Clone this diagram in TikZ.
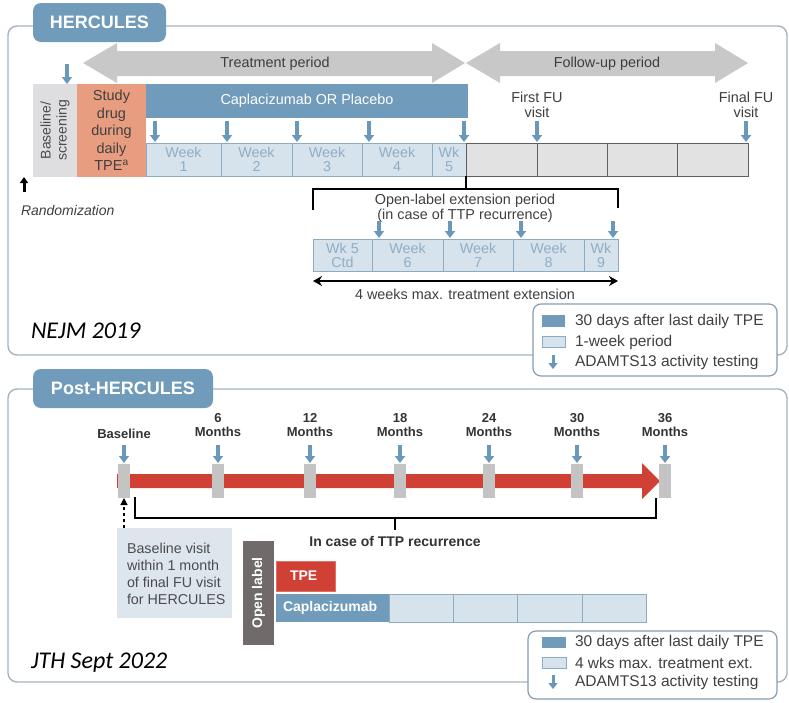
\documentclass[tikz,border=0pt]{standalone}
\usepackage{fontspec}
\setmainfont{Liberation Sans}
\newfontfamily\jfont{Carlito}
\usetikzlibrary{arrows.meta}
\definecolor{steel}{RGB}{112,155,186}
\definecolor{arrblue}{RGB}{106,152,186}
\definecolor{lightbox}{RGB}{214,227,237}
\definecolor{lightborder}{RGB}{140,172,196}
\definecolor{weektext}{RGB}{145,172,196}
\definecolor{greyarrow}{RGB}{200,200,200}
\definecolor{fubox}{RGB}{226,226,226}
\definecolor{fuborder}{RGB}{95,95,95}
\definecolor{basebox}{RGB}{222,222,224}
\definecolor{salmonbox}{RGB}{233,157,128}
\definecolor{ttpred}{RGB}{209,64,52}
\definecolor{markergrey}{RGB}{196,196,196}
\definecolor{bvbox}{RGB}{221,229,237}
\definecolor{olgrey}{RGB}{112,106,106}
\definecolor{framecol}{RGB}{165,180,195}
\definecolor{legcol}{RGB}{135,158,178}
\definecolor{txt}{RGB}{62,62,62}
\newcommand\setfs[2]{\fontsize{#1}{#2}\selectfont}
\begin{document}
\begin{tikzpicture}[x=1pt,y=-1pt,
  every node/.style={inner sep=0pt, outer sep=0pt, text=txt},
  tnorm/.style={font=\setfs{14.4}{15}, align=center},
  tbold/.style={font=\bfseries\setfs{13}{14}, align=center, text=black!80},
  tabbox/.style={fill=steel, rounded corners=8pt, text=white, font=\bfseries\setfs{18}{18}, anchor=north west, minimum height=39},
  cellbox/.style={anchor=north west, minimum height=33, line width=1pt},
  wkbox/.style={cellbox, draw=lightborder, fill=lightbox, text=weektext, align=center, font=\setfs{14.3}{14}},
  fubox/.style={cellbox, draw=fuborder, fill=fubox},
  extbox/.style={wkbox, minimum height=32},
  tarr/.style={draw=arrblue, line width=3.5pt, -{Triangle[width=10pt,length=7pt]}},
  larr/.style={draw=arrblue, line width=3pt, -{Triangle[width=9pt,length=6pt]}},
  boxframe/.style={draw=framecol, line width=1.4pt, rounded corners=9pt},
  legbox/.style={draw=legcol, fill=white, rounded corners=8pt, line width=1.2pt, anchor=north west},
  legtext/.style={anchor=west, font=\setfs{15.5}{15}, text=black!75},
  tickmark/.style={fill=markergrey, minimum width=12, minimum height=34, anchor=north},
  journal/.style={anchor=west, font=\jfont\itshape\setfs{24}{24}, text=black},
  bracket/.style={draw=black, line width=1.2pt}
]
\useasboundingbox (0,0) rectangle (789,702);
\fill[white] (0,0) rectangle (789,702);

% ================= HERCULES =================
\draw[boxframe] (8,26) rectangle (787,355);
\node[tabbox, minimum width=133] (tab1) at (33,3) {HERCULES};

% big grey arrows
\fill[greyarrow] (83,63) -- (117,43) -- (117,51) -- (432,51) -- (432,43) -- (465,63)
  -- (432,83) -- (432,76) -- (117,76) -- (117,83) -- cycle;
\node[tnorm] (tp) at (275,64) {Treatment period};
\fill[greyarrow] (466,63) -- (500,43) -- (500,51) -- (715,51) -- (715,43) -- (748,63)
  -- (715,83) -- (715,76) -- (500,76) -- (500,83) -- cycle;
\node[tnorm] (fp) at (607,64) {Follow-up period};

% baseline / study drug / caplacizumab
\node[anchor=north west, fill=basebox, minimum width=44, minimum height=93] (bs) at (33,84) {};
\node[rotate=90, align=center, font=\setfs{14}{16}, text=black!70] (bst) at (bs.center) {Baseline/\\screening};
\node[anchor=north west, fill=salmonbox, minimum width=69, minimum height=93, align=center,
  font=\setfs{14.5}{17.5}, text=black!75] (sd) at (77,84) {Study\\drug\\during\\daily\\TPE\textsuperscript{a}};
\node[anchor=north west, fill=steel, minimum width=322, minimum height=34, text=white,
  font=\setfs{14.4}{15}] (cap) at (146,84) {Caplacizumab OR Placebo};

% week cells
\node[wkbox, minimum width=75] (w1) at (146,143) {Week\\1};
\node[wkbox, minimum width=71] (w2) at (221,143) {Week\\2};
\node[wkbox, minimum width=70] (w3) at (292,143) {Week\\3};
\node[wkbox, minimum width=70] (w4) at (362,143) {Week\\4};
\node[wkbox, minimum width=34] (w5) at (432,143) {Wk\\5};
\node[fubox, minimum width=71] (f1) at (466,143) {};
\node[fubox, minimum width=70] (f2) at (537,143) {};
\node[fubox, minimum width=70] (f3) at (607,143) {};
\node[fubox, minimum width=71] (f4) at (677,143) {};

\node[tnorm] (ffu) at (537,105) {First FU\\visit};
\node[tnorm] (lfu) at (746,105) {Final FU\\visit};

% testing arrows
\draw[tarr] (67,64) -- (bs.north -| 67,0);
\foreach \x in {155,227,297,369,464,537,746} \draw[tarr] (\x,121) -- (\x,142);

% randomization
\draw[black, line width=3pt, -{Triangle[width=8pt,length=6pt]}] (24,192) -- (24,177);
\node[anchor=west, font=\itshape\setfs{14}{14}, text=black!75] (rand) at (21,210) {Randomization};

% open-label extension
\coordinate (bj) at (466,189);
\draw[bracket] (w5.south east) -- (bj);
\draw[bracket] (313,210) -- (313,189) -- (618,189) -- (618,208);
\node[tnorm, text=black!75] (olt) at (465,208) {Open-label extension period\\(in case of TTP recurrence)};
\foreach \x in {379,450,521,613} \draw[tarr] (\x,221) -- (\x,238);
\node[extbox, minimum width=59] (e1) at (313,239) {Wk 5\\Ctd};
\node[extbox, minimum width=71] (e2) at (372,239) {Week\\6};
\node[extbox, minimum width=70] (e3) at (443,239) {Week\\7};
\node[extbox, minimum width=71] (e4) at (513,239) {Week\\8};
\node[extbox, minimum width=34] (e5) at (584,239) {Wk\\9};
\coordinate (dl) at (313,281);
\coordinate (dr) at (618,281);
\draw[black, line width=2.5pt, {Stealth[length=9pt,width=10pt]}-{Stealth[length=9pt,width=10pt]}] (dl) -- (dr);
\node[tnorm, text=black!75] (wmx) at (465,294) {4 weeks max. treatment extension};

\node[journal] (nejm) at (31,331) {NEJM 2019};

% legend 1
\node[legbox, minimum width=244, minimum height=72] (leg1) at (533,304) {};
\fill[steel] (542,315) rectangle (565,327);
\node[legtext] (l1a) at (575,321) {30 days after last daily TPE};
\filldraw[fill=lightbox, draw=lightborder, line width=1pt] (542,336) rectangle (565,347);
\node[legtext] (l1b) at (575,342) {1-week period};
\draw[larr] (553,355) -- (553,369);
\node[legtext] (l1c) at (575,362) {ADAMTS13 activity testing};

% ================= Post-HERCULES =================
\draw[boxframe] (8,389) rectangle (787,682);
\node[tabbox, minimum width=180] (tab2) at (33,369) {Post-HERCULES};

% red timeline
\fill[ttpred] (117,474) -- (642,474) -- (642,463) -- (660,481) -- (642,499) -- (642,488) -- (117,488) -- cycle;
\node[tickmark] (m0) at (124,464) {};
\node[tickmark] (m6) at (218,464) {};
\node[tickmark] (m12) at (310,464) {};
\node[tickmark] (m18) at (400,464) {};
\node[tickmark] (m24) at (489,464) {};
\node[tickmark] (m30) at (577,464) {};
\node[tickmark] (m36) at (665,464) {};
\node[tbold] (lb0) at (124,434) {Baseline};
\node[tbold] (lb6) at (218,425) {6\\Months};
\node[tbold] (lb12) at (310,425) {12\\Months};
\node[tbold] (lb18) at (400,425) {18\\Months};
\node[tbold] (lb24) at (489,425) {24\\Months};
\node[tbold] (lb30) at (577,425) {30\\Months};
\node[tbold] (lb36) at (665,425) {36\\Months};
\foreach \m in {m0,m6,m12,m18,m24,m30,m36} \draw[tarr] ([yshift=19pt]\m.north) -- ([yshift=1pt]\m.north);

% recurrence bracket
\draw[bracket] (135,497) -- (135,518) -- (656,518) -- (656,498);
\draw[bracket] (395,518) -- (395,530);
\node[font=\bfseries\setfs{14}{14}, text=black!80] (icr) at (395,541) {In case of TTP recurrence};

% baseline visit box
\node[anchor=north west, fill=bvbox, minimum width=115, minimum height=90] (bv) at (117,528) {};
\node[anchor=north west, align=left, font=\setfs{14.3}{17}, text=black!70] (bvt) at (127,543)
  {Baseline visit\\within 1 month\\of final FU visit\\for HERCULES};
\draw[black, dashed, line width=1.2pt, -{Triangle[width=7pt,length=7pt]}] (bv.north -| m0.south) -- (m0.south);

% open label
\node[anchor=north west, fill=olgrey, minimum width=31, minimum height=104] (ol) at (243,541) {};
\node[rotate=90, text=white, font=\bfseries\setfs{14}{14}] (olt2) at (ol.center) {Open label};
\node[anchor=north west, fill=ttpred, draw=ttpred!75!white, line width=1pt, minimum width=59, minimum height=30] (tpe) at (276,561) {};
\node[anchor=west, text=white, font=\bfseries\setfs{14}{14}] (tpet) at (290,576) {TPE};
\node[anchor=north west, fill=steel, minimum width=113, minimum height=28] (cz) at (276,594) {};
\node[anchor=west, text=white, font=\bfseries\setfs{14}{14}] (czt) at (283,608) {Caplacizumab};
\node[anchor=north west, draw=lightborder, fill=lightbox, line width=1pt, minimum width=64, minimum height=28] (c1) at (389,594) {};
\node[anchor=north west, draw=lightborder, fill=lightbox, line width=1pt, minimum width=64, minimum height=28] (c2) at (453,594) {};
\node[anchor=north west, draw=lightborder, fill=lightbox, line width=1pt, minimum width=65, minimum height=28] (c3) at (517,594) {};
\node[anchor=north west, draw=lightborder, fill=lightbox, line width=1pt, minimum width=64, minimum height=28] (c4) at (582,594) {};

\node[journal] (jth) at (31,663) {JTH Sept 2022};

% legend 2
\node[legbox, minimum width=249, minimum height=68] (leg2) at (528,631) {};
\fill[steel] (542,637) rectangle (566,648);
\node[legtext] (l2a) at (575,642) {30 days after last daily TPE};
\filldraw[fill=lightbox, draw=lightborder, line width=1pt] (542,657) rectangle (566,668);
\node[legtext] (l2b) at (575,663) {4 wks max. treatment ext.};
\draw[larr] (553,675) -- (553,689);
\node[legtext] (l2c) at (575,682) {ADAMTS13 activity testing};
\end{tikzpicture}
\end{document}
